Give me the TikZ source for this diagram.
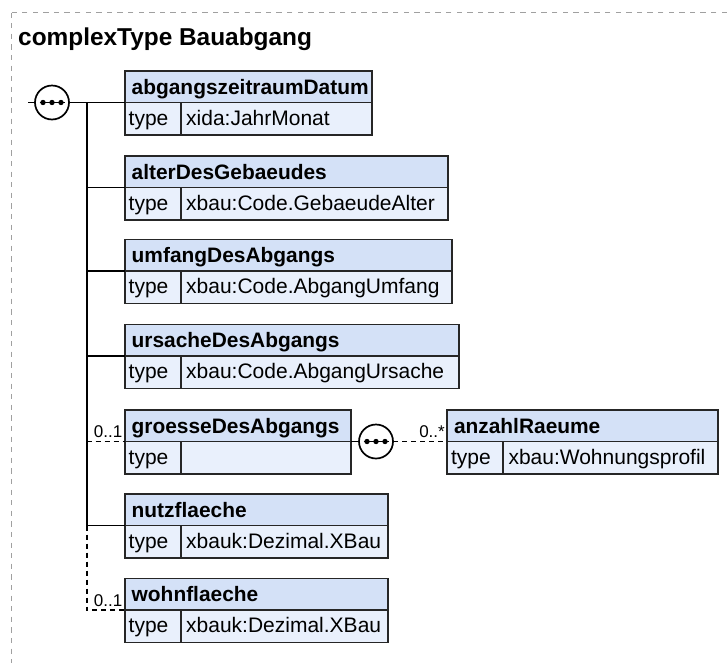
\documentclass[tikz,border=0pt]{standalone}
\usepackage{fontspec}
\setmainfont{Liberation Sans}
\definecolor{hdrfill}{RGB}{212,225,247}
\definecolor{typefill}{RGB}{233,240,252}
\definecolor{bordergrey}{RGB}{160,160,160}
\tikzset{
  boxbase/.style={draw=black!85, line width=1.8pt, outer sep=0pt, inner ysep=0pt, align=left},
  hdr/.style={boxbase, fill=hdrfill, font=\bfseries\fontsize{20.9}{24}\selectfont,
    inner xsep=7pt, minimum height=31.5pt, text height=19pt, text depth=3.8pt},
  tlab/.style={boxbase, fill=typefill, font=\fontsize{21}{24}\selectfont,
    inner xsep=4pt, text width=48pt, minimum height=32.5pt, text height=17pt, text depth=4.5pt},
  tval/.style={boxbase, fill=typefill, font=\fontsize{21}{24}\selectfont,
    inner xsep=5.5pt, minimum height=32.5pt, text height=17pt, text depth=4.5pt},
  seqnode/.style={circle, draw=black, line width=1.7pt, fill=white, minimum size=34pt, inner sep=0pt, outer sep=0pt},
  conn/.style={draw=black, line width=1.6pt},
  optline/.style={conn, dash pattern=on 5pt off 4pt},
  mult/.style={font=\fontsize{17}{20}\selectfont, inner sep=0pt, anchor=base east},
  frame/.style={draw=bordergrey, line width=1.2pt, dash pattern=on 5.3pt off 5.3pt}
}
\newcommand{\mkelem}[6]{%
  \pgfmathsetmacro{\hdrw}{#4-14}%
  \pgfmathsetmacro{\valw}{#4-56-11}%
  \node[hdr, text width=\hdrw pt, anchor=north west] (#1) at (#2,#3) {#5};
  \node[tlab, anchor=north west] (#1t) at (#1.south west) {type};
  \node[tval, text width=\valw pt, anchor=north west] (#1v) at (#1t.north east) {#6};
}
\newcommand{\seqdots}[1]{%
  \draw[line width=1.6pt] ($(#1.center)+(-12.5,0)$) -- ($(#1.center)+(12.5,0)$);
  \fill ($(#1.center)+(-9,0)$) circle (2.7pt);
  \fill (#1.center) circle (2.7pt);
  \fill ($(#1.center)+(9,0)$) circle (2.7pt);
}
\usetikzlibrary{calc}
\begin{document}
\begin{tikzpicture}[x=1pt, y=-1pt]
\useasboundingbox (0,0) rectangle (728,662);
\clip (0,0) rectangle (728,662);
\draw[frame] (11.5,12.5) rectangle (780,720);
\node[anchor=base west, inner sep=0pt, font=\bfseries\fontsize{24.4}{28}\selectfont] (title) at (18,45) {complexType Bauabgang};

\mkelem{e1}{124.7}{71}{247.5}{abgangszeitraumDatum}{xida:JahrMonat}
\mkelem{e2}{124.7}{156}{323.5}{alterDesGebaeudes}{xbau:Code.GebaeudeAlter}
\mkelem{e3}{124.7}{239.5}{327.5}{umfangDesAbgangs}{xbau:Code.AbgangUmfang}
\mkelem{e4}{124.7}{324.5}{334.5}{ursacheDesAbgangs}{xbau:Code.AbgangUrsache}
\mkelem{e5}{124.7}{410}{226.5}{groesseDesAbgangs}{}
\mkelem{e6}{447}{410}{271}{anzahlRaeume}{xbau:Wohnungsprofil}
\mkelem{e7}{124.7}{494}{263.5}{nutzflaeche}{xbauk:Dezimal.XBau}
\mkelem{e8}{124.7}{578.5}{263.5}{wohnflaeche}{xbauk:Dezimal.XBau}

% main sequence
\node[seqnode] (s1) at (52,102.5) {};
\seqdots{s1}
\coordinate (in) at (28,102.5);
\coordinate (tr) at (86.7,102.5);
\draw[conn] (in) -- (s1.west);
\draw[conn] (s1.east) -- (e1.south west);
\draw[conn] (tr) -- (tr |- e7.south west);
\draw[conn] (tr |- e2.south west) -- (e2.south west);
\draw[conn] (tr |- e3.south west) -- (e3.south west);
\draw[conn] (tr |- e4.south west) -- (e4.south west);
\draw[optline] (tr |- e5.south west) -- (e5.south west);
\draw[conn] (tr |- e7.south west) -- (e7.south west);
\draw[optline] (tr |- e7.south west) -- (tr |- e8.south west) -- (e8.south west);
\node[mult] (m5) at (122.5,437) {0..1};
\node[mult] (m8) at (122.5,606) {0..1};

% nested sequence
\node[seqnode] (s2) at (376,441.5) {};
\seqdots{s2}
\draw[conn] (e5.south east) -- (s2.west);
\draw[optline] (s2.east) -- (e6.south west);
\node[mult] (m6) at (445,437) {0..*};
\end{tikzpicture}
\end{document}
